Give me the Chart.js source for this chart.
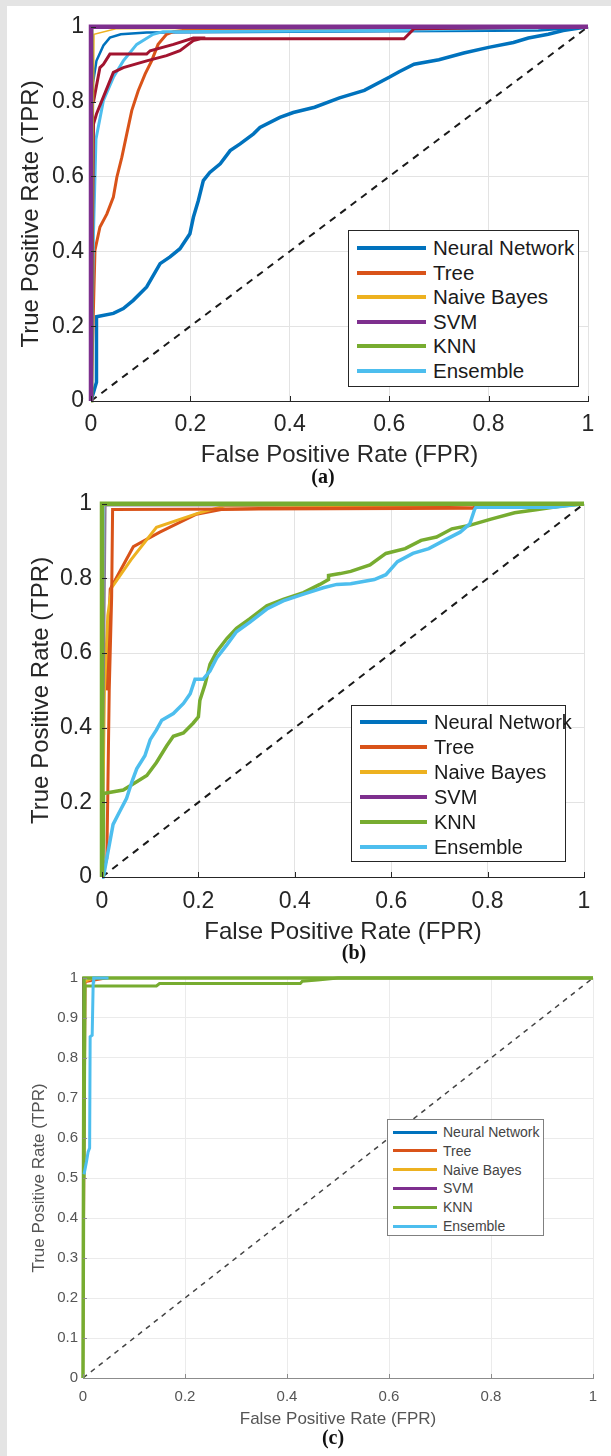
<!DOCTYPE html>
<html>
<head>
<meta charset="utf-8">
<script src="https://cdn.jsdelivr.net/npm/chart.js@4.4.1/dist/chart.umd.min.js"></script>
<style>
  html, body { margin: 0; padding: 0; background: #e4e4e4; }
  #page { position: relative; width: 611px; height: 1456px; }
  #sheet { position: absolute; left: 7px; top: 6px; width: 604px; height: 1450px; background: #fff; }
  canvas { position: absolute; }
  .cap { position: absolute; font: bold 20px 'Liberation Serif', 'Times New Roman', serif; color: #111; transform: translate(-50%, -50%); }
  .legend { position: absolute; background: #fff; border: 1px solid #262626; box-sizing: border-box; font-family: 'Liberation Sans', Arial, sans-serif; }
  .legend .row { position: absolute; left: 0; right: 0; }
  .legend .sw { position: absolute; }
  .legend .tx { position: absolute; white-space: nowrap; transform: translateY(-50%); }
</style>
</head>
<body>
<div id="page">
  <div id="sheet"></div>
  <canvas id="rocA" style="left:7px;top:6px" width="604" height="480"></canvas>
  <canvas id="rocB" style="left:7px;top:480px" width="604" height="484"></canvas>
  <canvas id="rocC" style="left:7px;top:964px" width="604" height="470"></canvas>
  <div id="legA" class="legend"></div>
  <div id="legB" class="legend"></div>
  <div id="legC" class="legend"></div>
  <div class="cap" style="left:323px;top:476px">(a)</div>
  <div class="cap" style="left:354px;top:952px">(b)</div>
  <div class="cap" style="left:333px;top:1437px">(c)</div>
</div>
<script>
/* global Chart*/
'use strict';

var models = ['Neural Network', 'Tree', 'Naive Bayes', 'SVM', 'KNN', 'Ensemble'];
var ticksMain = [0, 0.2, 0.4, 0.6, 0.8, 1];
var ticksFine = [0, 0.1, 0.2, 0.3, 0.4, 0.5, 0.6, 0.7, 0.8, 0.9, 1];
var chance = [0, 1];

// panel (a)
var aNnFpr = [0, 0.011, 0.011, 0.045, 0.065, 0.085, 0.112, 0.139, 0.159, 0.179, 0.199, 0.206, 0.216, 0.226, 0.239, 0.26, 0.28, 0.3, 0.327, 0.34, 0.38, 0.407, 0.45, 0.5, 0.55, 0.6, 0.62, 0.65, 0.7, 0.75, 0.8, 0.85, 0.88, 0.92, 0.95, 1];
var aNnTpr = [0, 0.05, 0.225, 0.234, 0.247, 0.269, 0.305, 0.367, 0.385, 0.407, 0.447, 0.491, 0.536, 0.589, 0.611, 0.634, 0.669, 0.687, 0.714, 0.731, 0.758, 0.771, 0.785, 0.81, 0.83, 0.865, 0.88, 0.9, 0.912, 0.93, 0.945, 0.958, 0.97, 0.98, 0.99, 1];
var aNn2Fpr = [0, 0.004, 0.011, 0.025, 0.038, 0.06, 0.112, 0.9, 1];
var aNn2Tpr = [0, 0.85, 0.909, 0.95, 0.971, 0.98, 0.985, 0.99, 1];
var aTreeFpr = [0, 0.004, 0.008, 0.018, 0.032, 0.045, 0.052, 0.062, 0.072, 0.082, 0.095, 0.109, 0.122, 0.135, 0.152, 0.166, 0.2, 1];
var aTreeTpr = [0, 0.2, 0.403, 0.465, 0.5, 0.545, 0.598, 0.651, 0.714, 0.776, 0.829, 0.874, 0.909, 0.953, 0.98, 0.987, 0.993, 1];
var aNbFpr = [0, 0.006, 0.05, 1];
var aNbTpr = [0, 0.98, 0.995, 1];
var aSvmFpr = [0, 0, 1];
var aSvmTpr = [0, 1, 1];
var aKnnFpr = [0, 0.002, 1];
var aKnnTpr = [0, 1, 1];
var aEnsFpr = [0, 0.005, 0.01, 0.025, 0.045, 0.065, 0.092, 0.125, 0.145, 0.6, 1];
var aEnsTpr = [0, 0.45, 0.7, 0.803, 0.865, 0.909, 0.953, 0.98, 0.987, 0.99, 1];
var aRed1Fpr = [0, 0.005, 0.011, 0.045, 0.065, 0.112, 0.152, 0.179, 0.206, 0.22, 0.63, 0.65, 1];
var aRed1Tpr = [0, 0.74, 0.767, 0.878, 0.891, 0.909, 0.923, 0.936, 0.963, 0.968, 0.968, 0.995, 1];
var aRed2Fpr = [0.005, 0.018, 0.025, 0.038, 0.112, 0.119, 0.166, 0.206, 0.23];
var aRed2Tpr = [0.8, 0.891, 0.9, 0.927, 0.927, 0.936, 0.953, 0.97, 0.97];

// panel (b)
var bNnFpr = [0, 0.002, 1];
var bNnTpr = [0, 1, 1];
var bTreeFpr = [0, 0.01, 0.012, 0.015, 0.02, 0.022, 0.77, 0.78, 1];
var bTreeTpr = [0, 0.05, 0.22, 0.5, 0.75, 0.985, 0.988, 1, 1];
var bTree2Fpr = [0.01, 0.017, 0.065, 0.12, 0.196, 0.25, 0.4, 1];
var bTree2Tpr = [0.5, 0.771, 0.885, 0.924, 0.972, 0.985, 0.99, 1];
var bNbFpr = [0, 0.005, 0.012, 0.02, 0.06, 0.113, 0.2, 0.257, 1];
var bNbTpr = [0, 0.5, 0.7, 0.775, 0.85, 0.937, 0.975, 0.995, 1];
var bSvmFpr = [0, 0.005, 0.008, 0.3, 1];
var bSvmTpr = [0, 0.6, 0.995, 0.995, 1];
var bKnnFpr = [0, 0, 1];
var bKnnTpr = [0, 1, 1];
var bKnn2Fpr = [0, 0.003, 0.003, 0.044, 0.072, 0.093, 0.113, 0.134, 0.148, 0.169, 0.189, 0.2, 0.203, 0.214, 0.224, 0.238, 0.259, 0.279, 0.307, 0.342, 0.376, 0.418, 0.452, 0.47, 0.47, 0.494, 0.516, 0.556, 0.589, 0.629, 0.662, 0.694, 0.726, 0.759, 0.807, 0.856, 0.904, 0.953, 1];
var bKnn2Tpr = [0, 0.1, 0.224, 0.233, 0.255, 0.272, 0.307, 0.351, 0.377, 0.386, 0.412, 0.429, 0.473, 0.517, 0.57, 0.604, 0.639, 0.666, 0.692, 0.727, 0.744, 0.762, 0.784, 0.797, 0.808, 0.813, 0.819, 0.836, 0.867, 0.88, 0.902, 0.911, 0.933, 0.941, 0.959, 0.976, 0.985, 0.994, 1];
var bEnsFpr = [0, 0.003, 0.013, 0.023, 0.037, 0.051, 0.062, 0.072, 0.089, 0.1, 0.113, 0.124, 0.148, 0.169, 0.183, 0.193, 0.21, 0.224, 0.238, 0.259, 0.279, 0.307, 0.342, 0.376, 0.418, 0.459, 0.487, 0.516, 0.565, 0.589, 0.613, 0.645, 0.678, 0.71, 0.743, 0.763, 0.773, 0.776, 0.937, 1];
var bEnsTpr = [0, 0.001, 0.071, 0.141, 0.176, 0.211, 0.255, 0.29, 0.325, 0.368, 0.394, 0.42, 0.438, 0.465, 0.491, 0.53, 0.53, 0.552, 0.587, 0.622, 0.657, 0.683, 0.718, 0.74, 0.758, 0.775, 0.784, 0.786, 0.797, 0.81, 0.845, 0.867, 0.88, 0.902, 0.924, 0.946, 0.985, 0.991, 0.991, 1];

// panel (c)
var cNnFpr = [0, 0, 1];
var cNnTpr = [0, 1, 1];
var cTreeFpr = [0, 0.005, 0.05, 1];
var cTreeTpr = [0, 0.99, 1, 1];
var cNbFpr = [0, 0.003, 0.02, 1];
var cNbTpr = [0, 0.99, 1, 1];
var cSvmFpr = [0, 0, 1];
var cSvmTpr = [0, 1, 1];
var cKnnFpr = [0, 0.002, 1];
var cKnnTpr = [0, 1, 1];
var cKnn2Fpr = [0.002, 0.004, 0.144, 0.15, 0.426, 0.43, 0.46, 0.5, 1];
var cKnn2Tpr = [0.5, 0.98, 0.98, 0.986, 0.986, 0.992, 0.995, 1, 1];
var cEnsFpr = [0.002, 0.007, 0.01, 0.013, 0.014, 0.018, 0.02, 0.021, 0.05];
var cEnsTpr = [0.509, 0.542, 0.565, 0.575, 0.853, 0.857, 0.99, 1, 1];

var colors = ['#0072BD', '#D95319', '#EDB120', '#7E2F8E', '#77AC30', '#4DBEEE'];
var darkRed = '#A2142F';

function pts(fpr, tpr) {
  return fpr.map(function (x, i) { return {x: x, y: tpr[i]}; });
}

function curve(label, fpr, tpr, color, width, order, dash) {
  return {
    label: label,
    data: pts(fpr, tpr),
    showLine: true,
    borderColor: color,
    backgroundColor: color,
    borderWidth: width,
    borderDash: dash || [],
    pointRadius: 0,
    tension: 0,
    fill: false,
    clip: false,
    order: order
  };
}

// little inward tick marks like matlab
var innerTicks = {
  id: 'innerTicks',
  afterDatasetsDraw: function (chart, args, opts) {
    var c = chart.ctx, a = chart.chartArea;
    var xs = chart.scales.x, ys = chart.scales.y;
    c.save();
    c.strokeStyle = opts.color;
    c.lineWidth = 1;
    c.beginPath();
    xs.ticks.forEach(function (t) {
      var px = Math.round(xs.getPixelForValue(t.value)) + 0.5;
      c.moveTo(px, a.bottom);
      c.lineTo(px, a.bottom - opts.len);
    });
    ys.ticks.forEach(function (t) {
      var py = Math.round(ys.getPixelForValue(t.value)) + 0.5;
      c.moveTo(a.left, py);
      c.lineTo(a.left + opts.len, py);
    });
    c.stroke();
    c.restore();
  }
};

function tickText(v) {
  return String(Math.round(v * 10) / 10);
}

function roc(id, datasets, s) {
  var font = "'Liberation Sans', Arial, sans-serif";
  return new Chart(document.getElementById(id), {
    type: 'scatter',
    data: {datasets: datasets},
    plugins: [innerTicks],
    options: {
      responsive: false,
      animation: false,
      events: [],
      layout: {padding: {left: 0, top: s.padTop, right: s.padRight, bottom: 0}},
      plugins: {
        legend: {display: false},
        tooltip: {enabled: false},
        innerTicks: {color: s.axisColor, len: s.tickLen}
      },
      scales: {
        x: {
          type: 'linear', min: 0, max: 1,
          afterBuildTicks: function (ax) { ax.ticks = s.xTicks.map(function (v) { return {value: v}; }); },
          afterFit: function (ax) { ax.height = s.xAxisHeight; },
          grid: {color: s.gridColor, drawTicks: false, lineWidth: 1},
          border: {display: true, color: s.axisColor, width: 1},
          ticks: {padding: s.xTickPad, color: s.textColor, font: {family: font, size: s.tickSize}, maxRotation: 0, callback: tickText},
          title: {display: true, text: 'False Positive Rate (FPR)', color: s.textColor,
            font: {family: font, size: s.titleSize}, padding: {top: 0, bottom: s.xTitlePad}}
        },
        y: {
          type: 'linear', min: 0, max: 1,
          afterBuildTicks: function (ax) { ax.ticks = s.yTicks.map(function (v) { return {value: v}; }); },
          afterFit: function (ax) { ax.width = s.yAxisWidth; },
          grid: {color: s.gridColor, drawTicks: false, lineWidth: 1},
          border: {display: true, color: s.axisColor, width: 1},
          ticks: {padding: s.yTickPad, color: s.textColor, font: {family: font, size: s.tickSize}, callback: tickText},
          title: {display: true, text: 'True Positive Rate (TPR)', color: s.textColor,
            font: {family: font, size: s.titleSize}, padding: {top: s.yTitlePad, bottom: 0}}
        }
      }
    }
  });
}

// legend box drawn from the named datasets
function legend(id, chart, s) {
  var box = document.getElementById(id);
  box.style.left = s.left + 'px';
  box.style.top = s.top + 'px';
  box.style.width = s.width + 'px';
  box.style.height = s.height + 'px';
  box.style.borderColor = s.border;
  models.forEach(function (name, i) {
    var d = chart.data.datasets.filter(function (x) { return x.label === name; })[0];
    var row = document.createElement('div');
    row.className = 'row';
    row.style.top = (s.first + i * s.step) + 'px';
    var sw = document.createElement('div');
    sw.className = 'sw';
    sw.style.left = s.swLeft + 'px';
    sw.style.width = s.swWidth + 'px';
    sw.style.height = s.swHeight + 'px';
    sw.style.top = (-s.swHeight / 2) + 'px';
    sw.style.background = s.swatch ? s.swatch[i] : d.borderColor;
    var tx = document.createElement('div');
    tx.className = 'tx';
    tx.style.left = s.txLeft + 'px';
    tx.style.fontSize = s.fontSize + 'px';
    tx.style.color = s.color;
    tx.textContent = name;
    row.appendChild(sw);
    row.appendChild(tx);
    box.appendChild(row);
  });
}

// (a)
var chartA = roc('rocA', [
  curve('diag', chance, chance, '#1a1a1a', 2, 20, [7, 6]),
  curve('Neural Network', aNnFpr, aNnTpr, colors[0], 3.5, 9),
  curve('nn2', aNn2Fpr, aNn2Tpr, colors[0], 2.5, 8),
  curve('Tree', aTreeFpr, aTreeTpr, colors[1], 3, 7),
  curve('Naive Bayes', aNbFpr, aNbTpr, colors[2], 1.5, 4),
  curve('SVM', aSvmFpr, aSvmTpr, colors[3], 4.5, 1),
  curve('KNN', aKnnFpr, aKnnTpr, colors[4], 3, 2),
  curve('Ensemble', aEnsFpr, aEnsTpr, colors[5], 3, 6),
  curve('red1', aRed1Fpr, aRed1Tpr, darkRed, 3, 5),
  curve('red2', aRed2Fpr, aRed2Tpr, darkRed, 3, 5)
], {
  padTop: 20, padRight: 23, yAxisWidth: 84, xAxisHeight: 85,
  xTickPad: 10, yTickPad: 7, xTitlePad: 16.6, yTitlePad: 9.6,
  tickSize: 23, titleSize: 24, textColor: '#262626', axisColor: '#262626',
  gridColor: '#e3e3e3', tickLen: 5, xTicks: ticksMain, yTicks: ticksMain
});
legend('legA', chartA, {left: 348, top: 230, width: 231, height: 157, border: '#262626',
  first: 17, step: 24.6, swLeft: 8, swWidth: 69, swHeight: 4, txLeft: 84, fontSize: 20.5, color: '#1a1a1a'});

// (b)
var chartB = roc('rocB', [
  curve('diag', chance, chance, '#1a1a1a', 2, 20, [7, 6]),
  curve('Neural Network', bNnFpr, bNnTpr, colors[0], 3, 9),
  curve('Tree', bTreeFpr, bTreeTpr, colors[1], 3, 5),
  curve('tree2', bTree2Fpr, bTree2Tpr, colors[1], 3, 7),
  curve('Naive Bayes', bNbFpr, bNbTpr, colors[2], 3, 6),
  curve('SVM', bSvmFpr, bSvmTpr, '#8a7a9a', 1.5, 4),
  curve('KNN', bKnnFpr, bKnnTpr, colors[4], 4.5, 1),
  curve('knn2', bKnn2Fpr, bKnn2Tpr, colors[4], 3.5, 3),
  curve('Ensemble', bEnsFpr, bEnsTpr, colors[5], 3.5, 2)
], {
  padTop: 16, padRight: 27, yAxisWidth: 95, xAxisHeight: 87,
  xTickPad: 11, yTickPad: 10, xTitlePad: 17.6, yTitlePad: 19.6,
  tickSize: 23, titleSize: 24, textColor: '#262626', axisColor: '#262626',
  gridColor: '#e3e3e3', tickLen: 5, xTicks: ticksMain, yTicks: ticksMain
});
legend('legB', chartB, {left: 351, top: 705, width: 215, height: 157, border: '#262626',
  first: 16, step: 25, swLeft: 8, swWidth: 67, swHeight: 4, txLeft: 82, fontSize: 20, color: '#1a1a1a',
  swatch: colors});

// (c)
var chartC = roc('rocC', [
  curve('diag', chance, chance, '#444', 1.5, 20, [5, 5]),
  curve('Neural Network', cNnFpr, cNnTpr, colors[0], 2, 9),
  curve('Tree', cTreeFpr, cTreeTpr, colors[1], 2, 6),
  curve('Naive Bayes', cNbFpr, cNbTpr, colors[2], 2, 5),
  curve('SVM', cSvmFpr, cSvmTpr, colors[3], 2, 8),
  curve('KNN', cKnnFpr, cKnnTpr, colors[4], 3.5, 2),
  curve('knn2', cKnn2Fpr, cKnn2Tpr, colors[4], 3, 3),
  curve('Ensemble', cEnsFpr, cEnsTpr, colors[5], 3, 1)
], {
  padTop: 12, padRight: 18, yAxisWidth: 76, xAxisHeight: 56,
  xTickPad: 10, yTickPad: 5, xTitlePad: 4.8, yTitlePad: 21.8,
  tickSize: 15, titleSize: 17, textColor: '#555', axisColor: '#8c8c8c',
  gridColor: '#ebebeb', tickLen: 4, xTicks: ticksMain, yTicks: ticksFine
});
legend('legC', chartC, {left: 387, top: 1119, width: 157, height: 117, border: '#808080',
  first: 12, step: 18.8, swLeft: 5, swWidth: 44, swHeight: 3, txLeft: 55, fontSize: 14, color: '#444'});
</script>
</body>
</html>
